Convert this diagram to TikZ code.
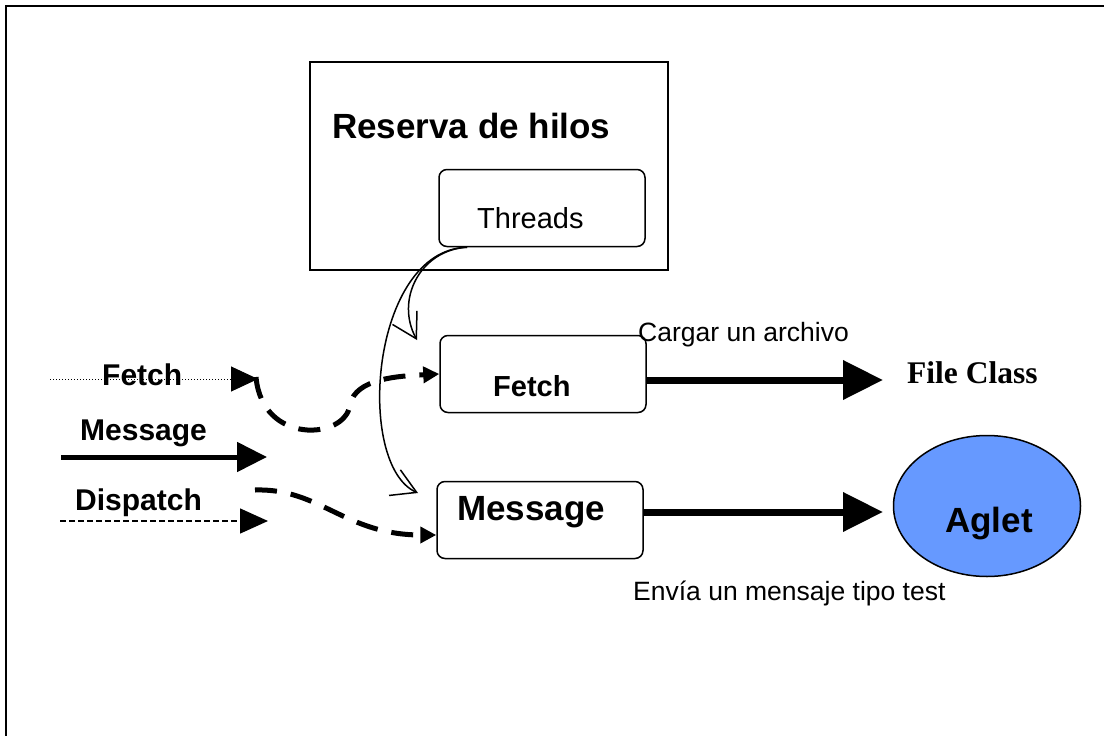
\documentclass[tikz,border=0pt]{standalone}
\usepackage{fontspec}
\setmainfont{Liberation Sans}
\newfontfamily\timesfont{Liberation Serif}
\usetikzlibrary{arrows.meta,shapes.geometric}
\definecolor{agletblue}{RGB}{102,153,255}
\begin{document}
\begin{tikzpicture}[x=1pt,y=-1pt]
  \tikzstyle{box}=[draw, rounded corners=8pt, line width=1.5pt, minimum width=206pt, minimum height=77pt, inner sep=0pt]
  \tikzstyle{lbl}=[inner sep=0pt, anchor=base west]
  \tikzstyle{big}=[lbl, font=\fontsize{35}{40}\selectfont\bfseries]
  \tikzstyle{mid}=[lbl, font=\fontsize{30}{34}\selectfont\bfseries]
  \tikzstyle{small}=[lbl, font=\fontsize{26.5}{30}\selectfont]
  \tikzstyle{fat}=[line width=7pt, -{Triangle[length=40pt,width=38pt]}]
  \tikzstyle{curvy}=[line width=5pt, dash pattern=on 22pt off 14pt, -{Triangle[length=16pt,width=16pt]}]
  \tikzstyle{thin}=[line width=1.5pt, -{Straight Barb[length=24pt,width=28pt]}]
  \useasboundingbox (0,0) rectangle (1104,736);
  \draw[line width=2pt] (1104,6) -- (6,6) -- (6,736);
  \node[draw, line width=2pt, minimum width=358pt, minimum height=208pt, inner sep=0pt] (pool) at (489,166) {};
  \node[big] (poolname) at (332,138) {Reserva de hilos};
  \node[box] (threads) at (542,208) {};
  \node[lbl, font=\fontsize{29}{33}\selectfont] (thrname) at (477,228) {Threads};
  \node[box] (fetch) at (543,374) {};
  \node[lbl, font=\fontsize{29}{33}\selectfont\bfseries] (fetchname) at (493,396) {Fetch};
  \node[box] (msg) at (540,520) {};
  \node[big] (msgname) at (457,520) {Message};
  \node[ellipse, draw, fill=agletblue, line width=1.5pt, minimum width=187pt, minimum height=141pt] (aglet) at (987,506) {};
  \node[big] (agletname) at (945,532) {Aglet};
  \node[lbl, font=\fontsize{31.5}{36}\selectfont\timesfont\bfseries] (fileclass) at (907,383) {File Class};
  \node[small] (cargar) at (638,341) {Cargar un archivo};
  \node[small] (envia) at (633,600) {Envía un mensaje tipo test};
  \node[mid] (infetch) at (102,385) {Fetch};
  \node[mid] (inmsg) at (80,440) {Message};
  \node[mid] (indisp) at (75,510) {Dispatch};
  \coordinate (f0) at (50,379);
  \coordinate (f1) at (258,379);
  \coordinate (m0) at (61,457);
  \coordinate (m1) at (267,457);
  \coordinate (d0) at (60,521);
  \coordinate (d1) at (268,521);
  \coordinate (c0) at (256,377);
  \coordinate (c1) at (255,490);
  \coordinate (t0) at ([xshift=-75pt]threads.south);
  \coordinate (t1) at (417,340);
  \coordinate (t2) at (418,493);
  \coordinate (fc) at (883,380);
  \coordinate (ag) at (883,512);
  \draw[line width=1pt, dotted, -{Triangle[length=27pt,width=25pt]}] (f0) -- (f1);
  \draw[line width=5pt, -{Triangle[length=30pt,width=29pt]}] (m0) -- (m1);
  \draw[line width=1.5pt, dash pattern=on 6pt off 3pt, -{Triangle[length=28pt,width=25pt]}] (d0) -- (d1);
  \draw[curvy] (c0) .. controls (262,445) and (345,440) .. (350,405) .. controls (355,378) and (400,376) .. (fetch.west);
  \draw[curvy] (c1) .. controls (320,488) and (345,535) .. ([yshift=-15pt]msg.west);
  \draw[thin] (t0) .. controls (420,250) and (395,300) .. (t1);
  \draw[thin] (t0) .. controls (370,250) and (355,465) .. (t2);
  \draw[fat] (fetch.east |- fc) -- (fc);
  \draw[fat] (msg.east |- ag) -- (ag);
\end{tikzpicture}
\end{document}
